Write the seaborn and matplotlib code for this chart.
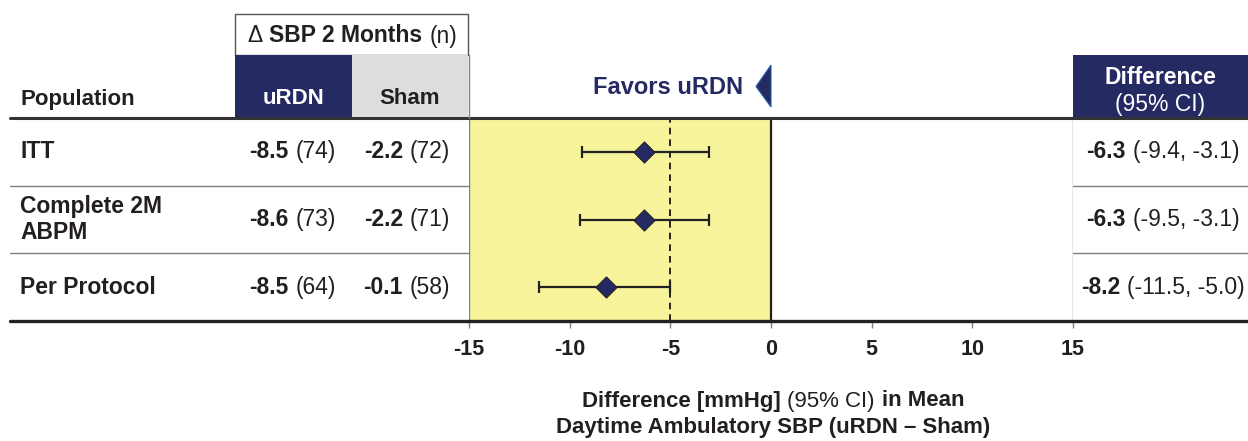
import numpy as np
import pandas as pd
import matplotlib
matplotlib.use('Agg')
import matplotlib.pyplot as plt
import seaborn as sns
from matplotlib.transforms import blended_transform_factory
from matplotlib.patches import Rectangle, Polygon
from matplotlib.lines import Line2D
from matplotlib.offsetbox import TextArea, HPacker, AnnotationBbox

# data
populations = ['ITT', 'Complete 2M\nABPM', 'Per Protocol']
urdn_change = [-8.5, -8.6, -8.5]
urdn_n = [74, 73, 64]
sham_change = [-2.2, -2.2, -0.1]
sham_n = [72, 71, 58]
diff = [-6.3, -6.3, -8.2]
ci_low = [-9.4, -9.5, -11.5]
ci_high = [-3.1, -3.1, -5.0]
xticks = [-15, -10, -5, 0, 5, 10, 15]

df = pd.DataFrame({'population': populations, 'diff': diff,
                   'lo': ci_low, 'hi': ci_high})
df['row'] = np.arange(len(df)) + 0.5

NAVY = '#252A62'
YELLOW = '#F8F49B'
GRAY = '#DCDDDE'
LINE = '#808080'
TXT = '#231F20'
FS = 16.5

sns.set_style('white')
plt.rcParams['font.family'] = ['Liberation Sans', 'DejaVu Sans']

W, H = 1248, 441
fig = plt.figure(figsize=(W / 100, H / 100), dpi=100)


def fx(px):
    return px / W


def fy(py):
    return 1 - py / H


ax = fig.add_axes([fx(469), fy(321), fx(1073) - fx(469), fy(118) - fy(321)])
ax.set_xlim(-15, 15)
ax.set_ylim(3, 0)
for s in ax.spines.values():
    s.set_visible(False)

ax.axvspan(-15, 0, color=YELLOW, zorder=0)
ax.axvline(-5, color='black', lw=1.2, ls=(0, (4, 3)), zorder=1)
ax.axvline(0, color='#222222', lw=1.6, zorder=1)
ax.axvline(-15, color=LINE, lw=1, zorder=1)
ax.axvline(15, color=LINE, lw=1, zorder=1)

ax.errorbar(df['diff'], df['row'],
            xerr=[df['diff'] - df['lo'], df['hi'] - df['diff']],
            fmt='none', ecolor='#222222', elinewidth=1.6, capsize=4.5,
            capthick=1.6, zorder=2)
sns.scatterplot(data=df, x='diff', y='row', marker='D', s=115, color=NAVY,
                edgecolor='#222222', linewidth=0.8, zorder=3, ax=ax,
                legend=False)

ax.set_xticks(xticks)
ax.set_xticklabels([str(t) for t in xticks], fontsize=15.5,
                   fontweight='bold', color=TXT)
ax.tick_params(axis='x', length=5, width=1, color=LINE, pad=8,
               bottom=True)
ax.xaxis.get_major_ticks()[3].tick1line.set_color('#222222')
ax.set_yticks([])
ax.set_xlabel('')
ax.set_ylabel('')

trow = blended_transform_factory(fig.transFigure, ax.transData)

# horizontal rules
fig.add_artist(Line2D([fx(10), fx(1248)], [fy(117.5)] * 2, color='#333333',
                      lw=2.2, zorder=1))
fig.add_artist(Line2D([fx(10), fx(1248)], [fy(321)] * 2, color='#222222',
                      lw=2.4, zorder=5))
for r in [1, 2]:
    for x0, x1 in [(10, 469), (1073, 1248)]:
        ax.add_artist(Line2D([fx(x0), fx(x1)], [r, r], transform=trow,
                             color=LINE, lw=1, clip_on=False))

# header boxes
fig.add_artist(Rectangle((fx(235), fy(55)), fx(468) - fx(235), fy(14) - fy(55),
                         facecolor='white', edgecolor='#555555', lw=1))
fig.add_artist(Rectangle((fx(235), fy(117)), fx(352) - fx(235), fy(55) - fy(117),
                         facecolor=NAVY, edgecolor='none'))
fig.add_artist(Rectangle((fx(352), fy(117)), fx(468) - fx(352), fy(55) - fy(117),
                         facecolor=GRAY, edgecolor='none'))
fig.add_artist(Rectangle((fx(1073), fy(117)), fx(1248) - fx(1073), fy(55) - fy(117),
                         facecolor=NAVY, edgecolor='none'))
fig.add_artist(Line2D([fx(468.5)] * 2, [fy(55), fy(118)], color=LINE, lw=1))

fig.text(fx(20), fy(99), 'Population', fontsize=16, fontweight='bold',
         color=TXT, va='center', ha='left')
fig.text(fx(293), fy(99), 'uRDN', fontsize=16, fontweight='bold',
         color='white', va='center', ha='center')
fig.text(fx(410), fy(99), 'Sham', fontsize=16, fontweight='bold',
         color=TXT, va='center', ha='center')
fig.text(fx(1160), fy(77), 'Difference', fontsize=16.5, fontweight='bold',
         color='white', va='center', ha='center')
fig.text(fx(1160), fy(104), '(95% CI)', fontsize=16.5, color='white',
         va='center', ha='center')
fig.text(fx(668), fy(87), 'Favors uRDN', fontsize=17, fontweight='bold',
         color=NAVY, va='center', ha='center')
fig.add_artist(Polygon([(fx(756), fy(86.5)), (fx(771), fy(65)), (fx(771), fy(107))],
                       closed=True, facecolor=NAVY, edgecolor='#2060A8', lw=0.8))


def pair(parts, x, y, trans, size=FS, color=TXT):
    kids = [TextArea(t, textprops=dict(fontsize=size, color=color,
                                       fontweight='bold' if b else 'normal'))
            for t, b in parts]
    box = HPacker(children=kids, align='baseline', pad=0, sep=5)
    ab = AnnotationBbox(box, (x, y), xycoords=trans, box_alignment=(0.5, 0.5),
                        frameon=False, pad=0, annotation_clip=False)
    ab.set_zorder(10)
    fig.add_artist(ab)


pair([('\u0394', False), ('SBP 2 Months', True), ('(n)', False)],
     fx(352), fy(36), fig.transFigure, size=16.5)

for i, row in df.iterrows():
    y = row['row']
    fig.text(fx(20), y, populations[i], fontsize=FS, fontweight='bold',
             color=TXT, va='center', ha='left', transform=trow,
             linespacing=1.2)
    pair([(f'{urdn_change[i]:.1f}', True), (f'({urdn_n[i]})', False)],
         fx(292.5), y, trow)
    pair([(f'{sham_change[i]:.1f}', True), (f'({sham_n[i]})', False)],
         fx(407), y, trow)
    pair([(f'{diff[i]:.1f}', True),
          (f'({ci_low[i]:.1f}, {ci_high[i]:.1f})', False)],
         fx(1163), y, trow)

# x-axis label
pair([('Difference [mmHg]', True), ('(95% CI)', False), ('in Mean', True)],
     fx(773), fy(401), fig.transFigure, size=16)
fig.text(fx(773), fy(428), 'Daytime Ambulatory SBP (uRDN \u2013 Sham)',
         fontsize=16, fontweight='bold', color=TXT, va='center', ha='center')

fig.savefig('out.png', dpi=100)
